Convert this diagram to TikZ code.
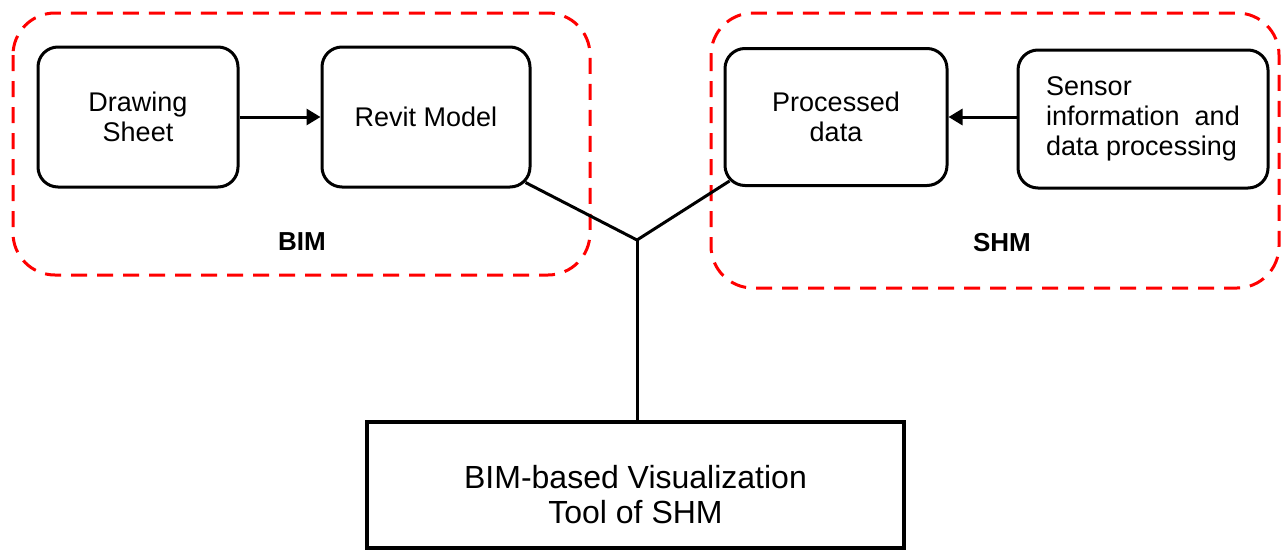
\documentclass[tikz,border=0pt]{standalone}
\usepackage{fontspec}
\setmainfont{Liberation Sans}
\usetikzlibrary{arrows.meta,calc}
\tikzset{
  stepbox/.style={draw, line width=3pt, rounded corners=20pt, align=center,
    inner sep=0pt, font=\fontsize{27}{30}\selectfont},
  groupbox/.style={draw=red, line width=3pt, dash pattern=on 16pt off 10pt,
    rounded corners=42pt},
  grouplabel/.style={font=\fontsize{26}{30}\selectfont\bfseries},
  link/.style={line width=3pt},
  flow/.style={line width=3pt, -{Triangle[length=14pt,width=16pt]}},
  toolbox/.style={draw, line width=4pt, inner sep=0pt},
  tooltext/.style={align=center, font=\fontsize{32}{35}\selectfont}
}
\begin{document}
\begin{tikzpicture}[x=1pt,y=-1pt]
\useasboundingbox (0,0) rectangle (1281,552);

% group outlines
\draw[groupbox] (13,13) rectangle (590,275);
\draw[groupbox] (711,13) rectangle (1279,288);
\node[grouplabel] (bimlabel) at (302,242) {BIM};
\node[grouplabel] (shmlabel) at (1002,243) {SHM};

% process boxes
\node[stepbox, minimum width=200pt, minimum height=140pt] (drawing) at (138,117) {Drawing\\Sheet};
\node[stepbox, minimum width=208pt, minimum height=140pt] (revit) at (426,117) {Revit Model};
\node[stepbox, minimum width=222pt, minimum height=137pt] (processed) at (836,117) {Processed\\data};
\node[stepbox, minimum width=250pt, minimum height=138pt, align=left] (sensor) at (1143,119)
  {Sensor\\information\ \ and\\data processing};

% visualization tool, its text sitting a little low in the frame
\node[toolbox, minimum width=537pt, minimum height=126pt] (tool) at (635.5,485) {};
\node[tooltext] (tooltxt) at ([yshift=-10pt]tool.center) {BIM-based Visualization\\Tool of SHM};

% arrows
\draw[flow] (drawing.east) -- (revit.west);
\draw[flow] (sensor.west |- processed.east) -- (processed.east);

% merge into the visualization tool
\coordinate (j) at (637,240);
\draw[link] ([xshift=-6pt,yshift=6pt]revit.south east) -- (j);
\draw[link] ([xshift=6pt,yshift=6pt]processed.south west) -- (j);
\draw[link] (j) -- (j |- tool.north);
\end{tikzpicture}
\end{document}
